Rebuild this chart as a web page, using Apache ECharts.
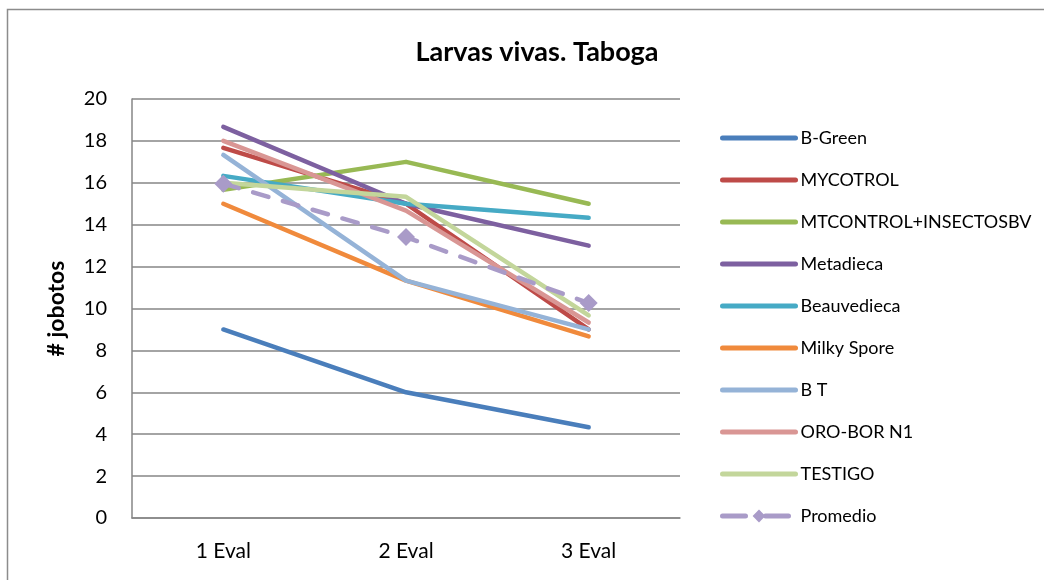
<!DOCTYPE html>
<html><head><meta charset="utf-8">
<script src="https://cdn.jsdelivr.net/npm/echarts@6/dist/echarts.min.js"></script>
<style>html,body{margin:0;padding:0;background:#fff}#c{width:1044px;height:580px}</style>
</head><body><div id="c"></div>
<script>
var categories = ['1 Eval', '2 Eval', '3 Eval'];
var seriesNames = ['B-Green', 'MYCOTROL', 'MTCONTROL+INSECTOSBV', 'Metadieca', 'Beauvedieca', 'Milky Spore', 'B T', 'ORO-BOR N1', 'TESTIGO', 'Promedio'];
var bGreen = [9, 6, 4.33];
var mycotrol = [17.67, 15, 9];
var mtcontrol = [15.67, 17, 15];
var metadieca = [18.67, 15, 13];
var beauvedieca = [16.33, 15, 14.33];
var milkySpore = [15, 11.33, 8.67];
var bt = [17.33, 11.33, 9];
var oroBor = [18, 14.67, 9.33];
var testigo = [16, 15.33, 9.67];
var promedio = [15.96, 13.41, 10.26];
var colors = ['#4A7EBB', '#BE4B48', '#98B954', '#7D60A0', '#46AAC5', '#F08A3C', '#95B3D7', '#D99694', '#C3D69B', '#A99BC8'];
var values = [bGreen, mycotrol, mtcontrol, metadieca, beauvedieca, milkySpore, bt, oroBor, testigo, promedio];

var FONT = 'Lato, "Open Sans", sans-serif';
var chart = echarts.init(document.getElementById('c'));
var series = values.map(function (v, i) {
  var isAvg = seriesNames[i] === 'Promedio';
  return {
    name: seriesNames[i],
    type: 'line',
    data: v,
    symbol: isAvg ? 'diamond' : 'none',
    symbolSize: isAvg ? 18 : 0,
    showSymbol: isAvg,
    itemStyle: { color: colors[i] },
    lineStyle: { color: colors[i], width: 4.5, cap: 'round', join: 'round', type: isAvg ? [16, 15] : 'solid' },
    emphasis: { disabled: true },
    animation: false
  };
});
var legendData = seriesNames.map(function (n, i) {
  var isAvg = n === 'Promedio';
  return {
    name: n,
    itemStyle: isAvg ? { color: colors[i], opacity: 1 } : { color: 'rgba(0,0,0,0)', borderWidth: 0 },
    lineStyle: { color: colors[i], width: 5, cap: 'round', type: isAvg ? [23, 20] : 'solid' }
  };
});
chart.setOption({
  animation: false,
  backgroundColor: '#fff',
  title: { text: 'Larvas vivas. Taboga', left: 532, top: 34, textAlign: 'center',
    textStyle: { fontFamily: FONT, fontSize: 27, fontWeight: 'bold', color: '#000' } },
  graphic: [{ type: 'rect', shape: { x: 7.5, y: 9.5, width: 1100, height: 700 },
    style: { fill: 'none', stroke: '#8c8c8c', lineWidth: 1.5 }, silent: true }],
  grid: { left: 132, right: 364, top: 99, bottom: 62, containLabel: false },
  legend: {
    orient: 'vertical', left: 720, top: 129, itemWidth: 73, itemHeight: 16, itemGap: 24,
    padding: 0,
    data: legendData,
    textStyle: { fontFamily: FONT, fontSize: 18, color: '#000' },
    selectedMode: false
  },
  xAxis: {
    type: 'category', data: categories, boundaryGap: true,
    axisLine: { lineStyle: { color: '#868686', width: 1.5 } },
    axisTick: { show: false },
    axisLabel: { fontFamily: FONT, fontSize: 21, color: '#000', margin: 23 }
  },
  yAxis: {
    type: 'value', min: 0, max: 20, interval: 2,
    name: '# jobotos', nameLocation: 'middle', nameGap: 64, nameRotate: 90,
    nameTextStyle: { fontFamily: FONT, fontSize: 23, fontWeight: 'bold', color: '#000' },
    axisLine: { show: true, lineStyle: { color: '#868686', width: 1.5 } },
    axisTick: { show: false },
    splitLine: { lineStyle: { color: '#868686', width: 1.5 } },
    axisLabel: { fontFamily: FONT, fontSize: 20, color: '#000', margin: 25 }
  },
  series: series
});
</script></body></html>
